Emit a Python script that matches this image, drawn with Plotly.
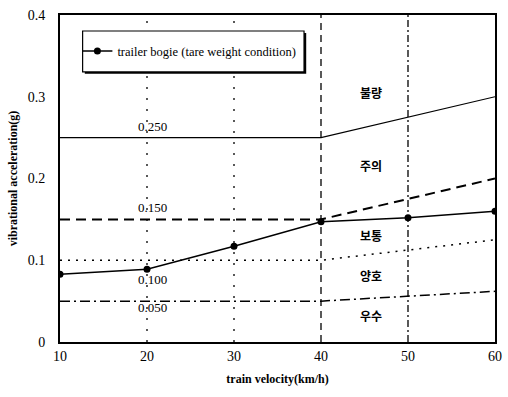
import plotly.graph_objects as go

# data
speed = [10, 20, 30, 40, 50, 60]
accel = [0.083, 0.089, 0.117, 0.147, 0.152, 0.160]

thresh_x = [10, 40, 60]
bad = [0.25, 0.25, 0.30]
caution = [0.15, 0.15, 0.20]
normal = [0.10, 0.10, 0.125]
good = [0.05, 0.05, 0.062]

thresh_labels = ["0.250", "0.150", "0.100", "0.050"]
thresh_label_y = [0.264, 0.165, 0.076, 0.042]

zone_labels = ["불량", "주의", "보통", "양호", "우수"]
zone_label_y = [0.305, 0.216, 0.130, 0.081, 0.032]

grid_x = [20, 30, 40, 50]
grid_dash = ["2px,9px", "2px,9px", "7px,5px", "7px,3px,2px,3px"]

x_ticks = [10, 20, 30, 40, 50, 60]
y_ticks = [0, 0.1, 0.2, 0.3, 0.4]
y_ticktext = ["0", "0.1", "0.2", "0.3", "0.4"]

serif = "Liberation Serif, Times New Roman, serif"
kr = "Noto Sans CJK KR"

fig = go.Figure()

line_styles = [
    (bad, dict(color="black", width=1.2, dash="solid")),
    (caution, dict(color="black", width=2, dash="10px,6px")),
    (normal, dict(color="black", width=1.5, dash="2px,6px")),
    (good, dict(color="black", width=1.5, dash="10px,4px,2px,4px")),
]
for ys, ln in line_styles:
    fig.add_trace(go.Scatter(x=thresh_x, y=ys, mode="lines", line=ln,
                             showlegend=False, hoverinfo="skip"))

fig.add_trace(go.Scatter(
    x=speed, y=accel, mode="lines+markers",
    name="trailer bogie (tare weight condition)",
    line=dict(color="black", width=1.5),
    marker=dict(symbol="circle", size=7, color="black"),
))

for gx, gd in zip(grid_x, grid_dash):
    fig.add_shape(type="line", xref="x", yref="paper", x0=gx, x1=gx, y0=0, y1=1,
                  line=dict(color="black", width=1.3, dash=gd), layer="below")

# legend frame with slight drop shadow
fig.add_shape(type="rect", xref="paper", yref="paper", x0=0.057, x1=0.566,
              y0=0.820, y1=0.945, line=dict(width=0), fillcolor="black", layer="above")
fig.add_shape(type="rect", xref="paper", yref="paper", x0=0.052, x1=0.561,
              y0=0.826, y1=0.951, line=dict(color="black", width=1.2),
              fillcolor="white", layer="above")

for t, ty in zip(thresh_labels, thresh_label_y):
    fig.add_annotation(x=20.6, y=ty, text=t, showarrow=False,
                       font=dict(family=serif, size=13, color="black"))

for z, zy in zip(zone_labels, zone_label_y):
    fig.add_annotation(x=45.8, y=zy, text="<b>" + z + "</b>", showarrow=False,
                       font=dict(family=kr, size=12, color="black"))

fig.update_layout(
    width=508, height=397,
    margin=dict(l=60, r=6, t=15, b=55),
    paper_bgcolor="white", plot_bgcolor="white",
    font=dict(family=serif, size=14, color="black"),
    legend=dict(x=0.04, y=0.889, xanchor="left", yanchor="middle",
                borderwidth=0, bgcolor="rgba(0,0,0,0)",
                font=dict(family=serif, size=12.5, color="black"),
                itemwidth=30, tracegroupgap=0),
    xaxis=dict(range=[10, 60], tickvals=x_ticks, showgrid=False, zeroline=False,
               showline=True, linecolor="black", linewidth=1.5, mirror=True,
               ticks="", ticklabelstandoff=0,
               title=dict(text="<b>train velocity(km/h)</b>", standoff=12,
                          font=dict(family=serif, size=12))),
    yaxis=dict(range=[0, 0.4], tickvals=y_ticks, ticktext=y_ticktext,
               showgrid=False, zeroline=False,
               showline=True, linecolor="black", linewidth=2, mirror=True,
               ticks="", ticklabelstandoff=10,
               title=dict(text="<b>vibrational acceleration(g)</b>", standoff=8,
                          font=dict(family=serif, size=12))),
)

fig.write_html("out.html")
